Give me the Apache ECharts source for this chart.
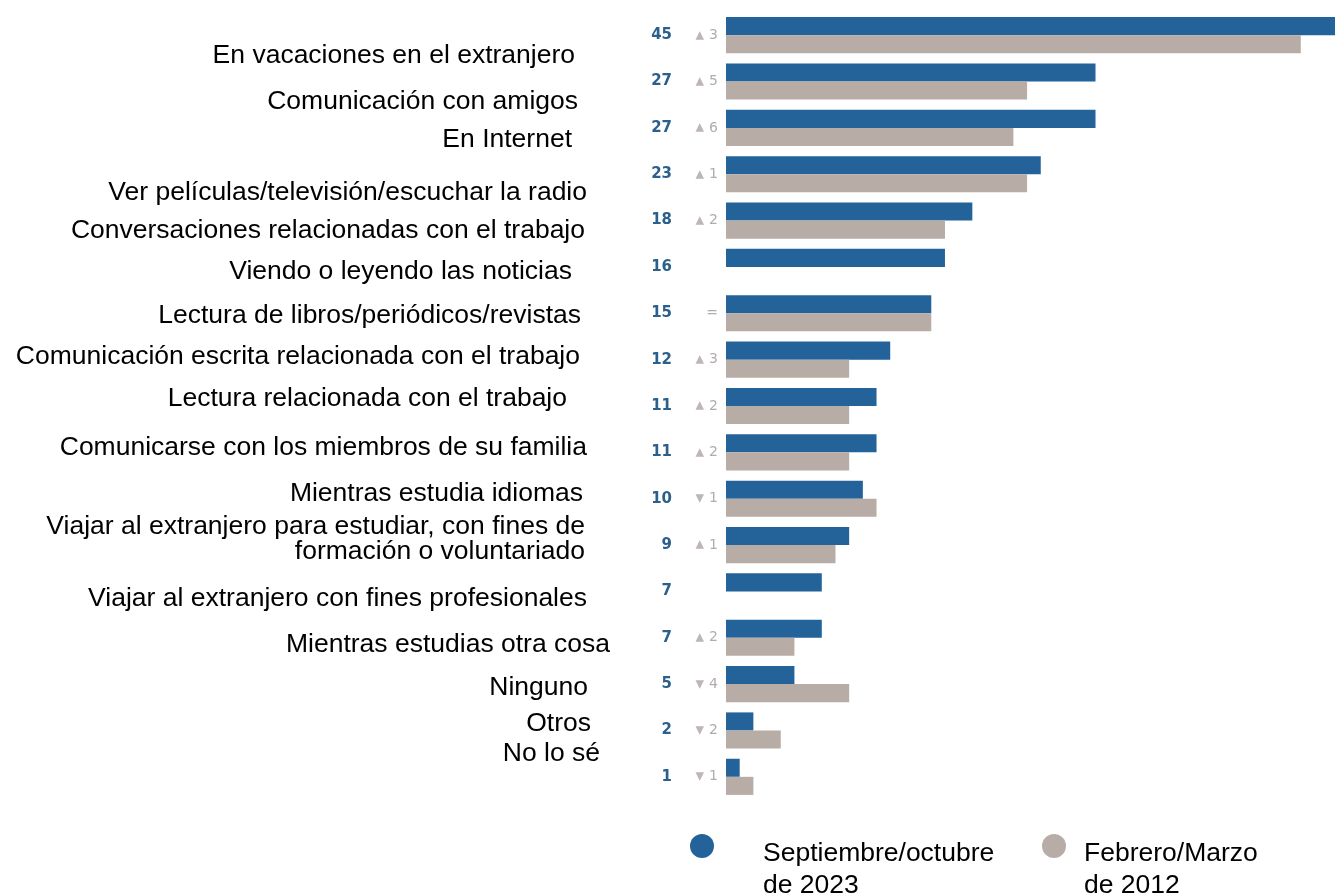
<!DOCTYPE html>
<html>
<head>
<meta charset="utf-8">
<script src="https://cdn.jsdelivr.net/npm/echarts@6/dist/echarts.min.js"></script>
<style>
html,body{margin:0;padding:0;background:#fff;}
#chart{width:1335px;height:895px;}
</style>
</head>
<body>
<div id="chart"></div>
<script>
// ---- data ----
const categories = [
  'En vacaciones en el extranjero',
  'Comunicación con amigos',
  'En Internet',
  'Ver películas/televisión/escuchar la radio',
  'Conversaciones relacionadas con el trabajo',
  'Viendo o leyendo las noticias',
  'Lectura de libros/periódicos/revistas',
  'Comunicación escrita relacionada con el trabajo',
  'Lectura relacionada con el trabajo',
  'Comunicarse con los miembros de su familia',
  'Mientras estudia idiomas',
  'Viajar al extranjero para estudiar, con fines de\nformación o voluntariado',
  'Viajar al extranjero con fines profesionales',
  'Mientras estudias otra cosa',
  'Ninguno',
  'Otros',
  'No lo sé'
];
const values2023 = [45, 27, 27, 23, 18, 16, 15, 12, 11, 11, 10, 9, 7, 7, 5, 2, 1];
const values2012 = [42, 22, 21, 22, 16, null, 15, 9, 9, 9, 11, 8, null, 5, 9, 4, 2];
const changeSymbols = ['▴', '▴', '▴', '▴', '▴', '', '', '▴', '▴', '▴', '▾', '▴', '', '▴', '▾', '▾', '▾'];
const changeValues = ['3', '5', '6', '1', '2', '', '=', '3', '2', '2', '1', '1', '', '2', '4', '2', '1'];
const seriesNames = ['Septiembre/octubre\nde 2023', 'Febrero/Marzo\nde 2012'];

// ---- label layout tweaks (style only) ----
const labelShiftY = [21, 20, 12, 18, 10, 5, 2, -3, -7, -5, -5, -6, 7, 7, 4, -7, -23];
const labelLineHeight = [30, 30, 30, 30, 30, 30, 30, 30, 30, 30, 30, 25, 30, 30, 30, 30, 30];
const labelRightEdge = [575, 578, 572, 587, 585, 572, 581, 580, 567, 587, 583, 585, 587, 610, 588, 591, 600];
const baseRight = 612;
const FONT = 'Liberation Sans, Arial, sans-serif';

const rich = {};
categories.forEach((name, i) => {
  const dy = labelShiftY[i];
  rich['r' + i] = {
    fontFamily: FONT,
    fontSize: 26.5,
    color: '#000',
    lineHeight: labelLineHeight[i],
    align: 'right',
    padding: [dy > 0 ? 2 * dy : 0, baseRight - labelRightEdge[i], dy < 0 ? -2 * dy : 0, 0]
  };
});

const chart = echarts.init(document.getElementById('chart'), null, {renderer: 'canvas'});

function legendFmt(pad) {
  return {
    fontFamily: FONT, fontSize: 26.5, color: '#000',
    rich: {
      s: {fontSize: 10, lineHeight: 48},
      t: {fontFamily: FONT, fontSize: 26.5, color: '#000', lineHeight: 32, padding: [0, 0, 0, pad]}
    }
  };
}
const legendFormatter = name => '{s|\u00a0}\n' + name.split('\n').map(l => '{t|' + l + '}').join('\n');

chart.setOption({
  animation: false,
  backgroundColor: '#ffffff',
  grid: {left: 726, right: 0, top: 12, bottom: 95, containLabel: false},
  legend: [
    {
      data: [seriesNames[0]], left: 685, top: 804, icon: 'circle', itemWidth: 24, itemHeight: 24,
      selectedMode: false, formatter: legendFormatter, textStyle: legendFmt(44)
    },
    {
      data: [seriesNames[1]], left: 1037, top: 804, icon: 'circle', itemWidth: 24, itemHeight: 24,
      selectedMode: false, formatter: legendFormatter, textStyle: legendFmt(13)
    }
  ],
  xAxis: {
    type: 'value', min: 0, max: 44.5,
    axisLine: {show: false}, axisTick: {show: false}, axisLabel: {show: false}, splitLine: {show: false}
  },
  yAxis: [
    {
      type: 'category', inverse: true, data: categories, position: 'left',
      axisLine: {show: false}, axisTick: {show: false}, splitLine: {show: false},
      axisLabel: {
        margin: 8, interval: 0, showMinLabel: true, showMaxLabel: true,
        formatter: (v, i) => '{v|' + values2023[i] + '}{t|' + (changeSymbols[i] || '\u00a0') + '}{d|' + (changeValues[i] || '\u00a0') + '}',
        rich: {
          v: {fontFamily: 'DejaVu Sans', fontWeight: 'bold', fontSize: 15, color: '#2b5f8c', align: 'right'},
          t: {fontFamily: 'DejaVu Sans', fontSize: 17, color: '#bdb6b3', width: 32, align: 'right', padding: [0, 4, 0, 0]},
          d: {fontFamily: 'DejaVu Sans', fontSize: 14, color: '#b3acaa', width: 10, align: 'right'}
        }
      }
    },
    {
      type: 'category', inverse: true, data: categories, position: 'left',
      axisLine: {show: false}, axisTick: {show: false}, splitLine: {show: false},
      axisLabel: {
        margin: 726 - baseRight, interval: 0, showMinLabel: true, showMaxLabel: true, hideOverlap: false,
        formatter: (v, i) => v.split('\n').map(l => '{r' + i + '|' + l + '}').join('\n'),
        rich: rich
      }
    }
  ],
  series: [
    {
      name: seriesNames[0], type: 'bar', data: values2023, yAxisIndex: 0,
      barGap: '0%', barCategoryGap: '22%',
      itemStyle: {color: '#23639a'}
    },
    {
      name: seriesNames[1], type: 'bar', data: values2012, yAxisIndex: 0,
      barGap: '0%', barCategoryGap: '22%',
      itemStyle: {color: '#b8aca6'}
    }
  ]
});
</script>
</body>
</html>
